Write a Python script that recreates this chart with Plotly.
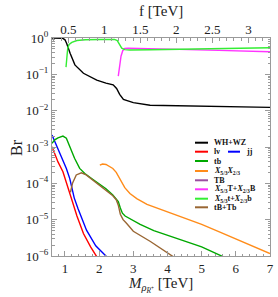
import plotly.graph_objects as go

# ---- data (M in TeV, Br) ----
wz_M = [0.62, 0.94, 1.0, 1.05, 1.15, 1.29, 1.54, 1.93, 2.2, 2.41, 2.51, 2.6, 2.71, 3.0, 3.49, 4.95, 7.0]
wz_Br = [1.0, 0.977, 0.891, 0.708, 0.380, 0.182, 0.107, 0.0692, 0.0575, 0.0513, 0.0407, 0.0282, 0.0204, 0.0166, 0.0141, 0.0132, 0.0123]

lv_M = [0.62, 0.795, 0.94, 1.04, 1.12, 1.2, 1.35, 1.54, 1.75, 1.93]
lv_Br = [1.02e-3, 3.89e-4, 2.09e-4, 1.10e-4, 6.31e-5, 3.55e-5, 1.26e-5, 4.17e-6, 1.78e-6, 9.55e-7]

jj_M = [0.62, 0.795, 0.94, 1.04, 1.14, 1.27, 1.38, 1.5, 1.63, 1.9, 2.22]
jj_Br = [2.14e-3, 9.12e-4, 4.37e-4, 2.57e-4, 1.35e-4, 3.98e-5, 2.04e-5, 1.0e-5, 5.13e-6, 1.91e-6, 9.55e-7]

tb_M = [0.62, 0.7, 0.795, 0.94, 1.04, 1.14, 1.28, 1.43, 1.58, 1.8, 2.0, 2.2, 2.4, 2.5, 2.56, 2.62, 2.68, 2.76, 2.9, 3.2, 3.6, 4.0, 4.4, 5.0, 5.63]
tb_Br = [1.26e-3, 1.58e-3, 1.78e-3, 2.0e-3, 1.74e-3, 1.02e-3, 4.90e-4, 2.57e-4, 1.86e-4, 1.32e-4, 9.55e-5, 7.08e-5, 4.79e-5, 3.80e-5, 3.16e-5, 2.09e-5, 1.51e-5, 1.26e-5, 1.05e-5, 7.41e-6, 5.01e-6, 3.72e-6, 2.69e-6, 1.78e-6, 9.55e-7]

xx_M = [2.02, 2.1, 2.2, 2.3, 2.4, 2.5, 2.6, 2.68, 2.75, 2.9, 3.1, 3.4, 4.0, 4.5, 5.0, 5.5, 6.0, 6.5, 7.0]
xx_Br = [3.16e-4, 3.39e-4, 3.31e-4, 2.95e-4, 2.57e-4, 2.0e-4, 1.32e-4, 9.55e-5, 7.59e-5, 5.25e-5, 3.80e-5, 2.63e-5, 1.66e-5, 1.12e-5, 7.41e-6, 4.68e-6, 2.95e-6, 1.82e-6, 1.17e-6]

TB_M = []
TB_Br = []

XT_M = [2.56, 2.6, 2.64, 2.69, 2.75, 2.85, 3.5, 4.5, 5.5, 7.0]
XT_Br = [0.0891, 0.178, 0.316, 0.447, 0.513, 0.525, 0.513, 0.490, 0.457, 0.417]

Xt_M = [1.03, 1.05, 1.08, 1.12, 1.2, 1.35, 1.6, 2.0, 2.45, 2.53, 2.6, 2.66, 2.75, 2.9, 3.5, 4.5, 5.5, 7.0]
Xt_Br = [0.158, 0.355, 0.525, 0.661, 0.759, 0.851, 0.891, 0.912, 0.912, 0.851, 0.661, 0.525, 0.479, 0.468, 0.473, 0.490, 0.513, 0.537]

tB_M = [1.16, 1.22, 1.33, 1.48, 1.62, 1.8, 2.0, 2.2, 2.4, 2.5, 2.56, 2.62, 2.7, 2.8, 3.0, 3.5, 4.17]
tB_Br = [5.62e-5, 1.0e-4, 1.70e-4, 1.95e-4, 1.70e-4, 1.26e-4, 9.12e-5, 6.76e-5, 4.57e-5, 3.55e-5, 2.51e-5, 1.41e-5, 1.0e-5, 7.94e-6, 4.79e-6, 2.51e-6, 9.55e-7]

y_tickvals = [1e-6, 1e-5, 1e-4, 1e-3, 1e-2, 1e-1, 1]
y_ticktext = ["10<sup>\u22126</sup>", "10<sup>\u22125</sup>", "10<sup>\u22124</sup>", "10<sup>\u22123</sup>",
              "10<sup>\u22122</sup>", "10<sup>\u22121</sup>", "10<sup>0</sup>"]
x_ticks = [1, 2, 3, 4, 5, 6, 7]
f_ticks = [0.5, 1, 1.5, 2, 2.5, 3]
f_ticktext = ["0.5", "1", "1.5", "2", "2.5", "3"]

series = [
    ("WH+WZ", wz_M, wz_Br, "#000000"),
    ("l\u03bd", lv_M, lv_Br, "#ff0000"),
    ("jj", jj_M, jj_Br, "#0000ff"),
    ("tb", tb_M, tb_Br, "#00a800"),
    ("<i>X</i><sub>5/3</sub><i>X</i><sub>2/3</sub>", xx_M, xx_Br, "#ff8c1a"),
    ("TB", TB_M, TB_Br, "#9b4ea0"),
    ("<i>X</i><sub>5/3</sub>T+<i>X</i><sub>2/3</sub>B", XT_M, XT_Br, "#ff33ff"),
    ("<i>X</i><sub>5/3</sub>t+<i>X</i><sub>2/3</sub>b", Xt_M, Xt_Br, "#33ee33"),
    ("tB+Tb", tB_M, tB_Br, "#996633"),
]

fig = go.Figure()
for name, xs, ys, col in series:
    fig.add_trace(go.Scatter(x=xs, y=ys, mode="lines", name=name,
                             line=dict(color=col, width=1.4), showlegend=False))

# invisible trace on the top (f) axis
fig.add_trace(go.Scatter(x=[0.5], y=[1e-7], xaxis="x2", mode="markers",
                         marker=dict(opacity=0), showlegend=False, hoverinfo="skip"))

W, H = 278, 297
PL, PR, PT, PB = 52, 270, 38, 256   # plot box in pixels
L, T, R, B = PL, PT, W - PR, H - PB
pw, ph = W - L - R, H - T - B

def px(x):
    return (x - PL) / pw

def py(y):
    return (PB - y) / ph

frame = "#9a9a9a"
font_serif = "Liberation Serif"

fig.update_layout(
    width=W, height=H,
    margin=dict(l=L, r=R, t=T, b=B, autoexpand=False),
    paper_bgcolor="white", plot_bgcolor="white",
    font=dict(family=font_serif, color="#222222", size=13),
    xaxis=dict(range=[0.62, 7.0], tickvals=x_ticks, ticks="inside", ticklen=5, automargin=False,
               tickcolor=frame, showgrid=False, zeroline=False, showline=True,
               linecolor=frame, linewidth=1, mirror=True,
               minor=dict(dtick=0.2, ticks="inside", ticklen=2.5, tickcolor=frame, showgrid=False),
               tickfont=dict(size=13, family=font_serif)),
    xaxis2=dict(range=[0.274, 3.30], overlaying="x", side="top", tickvals=f_ticks, automargin=False,
                ticktext=f_ticktext, ticks="inside", ticklen=5, tickcolor=frame,
                showgrid=False, zeroline=False, showline=False,
                minor=dict(dtick=0.1, ticks="inside", ticklen=2.5, tickcolor=frame, showgrid=False),
                tickfont=dict(size=13, family=font_serif)),
    yaxis=dict(type="log", range=[-6, 0], tickvals=y_tickvals, ticktext=y_ticktext, automargin=False,
               ticks="inside", ticklen=5, tickcolor=frame, showgrid=False, zeroline=False,
               showline=True, linecolor=frame, linewidth=1, mirror="ticks",
               minor=dict(dtick="D1", ticks="inside", ticklen=2.5, tickcolor=frame, showgrid=False),
               tickfont=dict(size=13, family=font_serif)),
    showlegend=False,
)

annotations = [
    dict(text="f [TeV]", x=px(161), y=py(11), xref="paper", yref="paper", showarrow=False,
         font=dict(size=15, family=font_serif, color="#222222"), xanchor="center", yanchor="middle"),
    dict(text="Br", x=px(16), y=py(148), xref="paper", yref="paper", showarrow=False, textangle=-90,
         font=dict(size=16, family=font_serif, color="#222222"), xanchor="center", yanchor="middle"),
    dict(text="<i>M</i><sub><i>\u03c1</i><sub><i>R</i><sup>+</sup></sub></sub> [TeV]", x=px(160), y=py(285),
         xref="paper", yref="paper", showarrow=False,
         font=dict(size=15, family=font_serif, color="#222222"), xanchor="center", yanchor="middle"),
]

shapes = []
# manual legend
rows = [142.7, 151.7, 161, 171, 180.3, 189.3, 198.7, 207.3]
legend_items = [
    (0, series[0], 195, 208, 212),
    (1, series[1], 195, 208, 212),
    (1, series[2], 228, 240, 244),
    (2, series[3], 195, 208, 212),
    (3, series[4], 195, 208, 212),
    (4, series[5], 195, 208, 212),
    (5, series[6], 195, 208, 212),
    (6, series[7], 195, 208, 212),
    (7, series[8], 195, 208, 212),
]
for row, (name, xs, ys, col), x0, x1, xt in legend_items:
    yy = py(rows[row])
    shapes.append(dict(type="line", xref="paper", yref="paper", x0=px(x0), x1=px(x1),
                       y0=yy, y1=yy, line=dict(color=col, width=2)))
    annotations.append(dict(text="<b>" + name + "</b>", x=px(xt), y=yy, xref="paper", yref="paper",
                            showarrow=False, xanchor="left", yanchor="middle",
                            font=dict(size=8, family=font_serif, color="#111111")))

fig.update_layout(annotations=annotations, shapes=shapes)
fig.write_html("out.html", config={"displayModeBar": False},
               post_script="document.body.style.margin='0px';document.body.style.overflow='hidden';")
